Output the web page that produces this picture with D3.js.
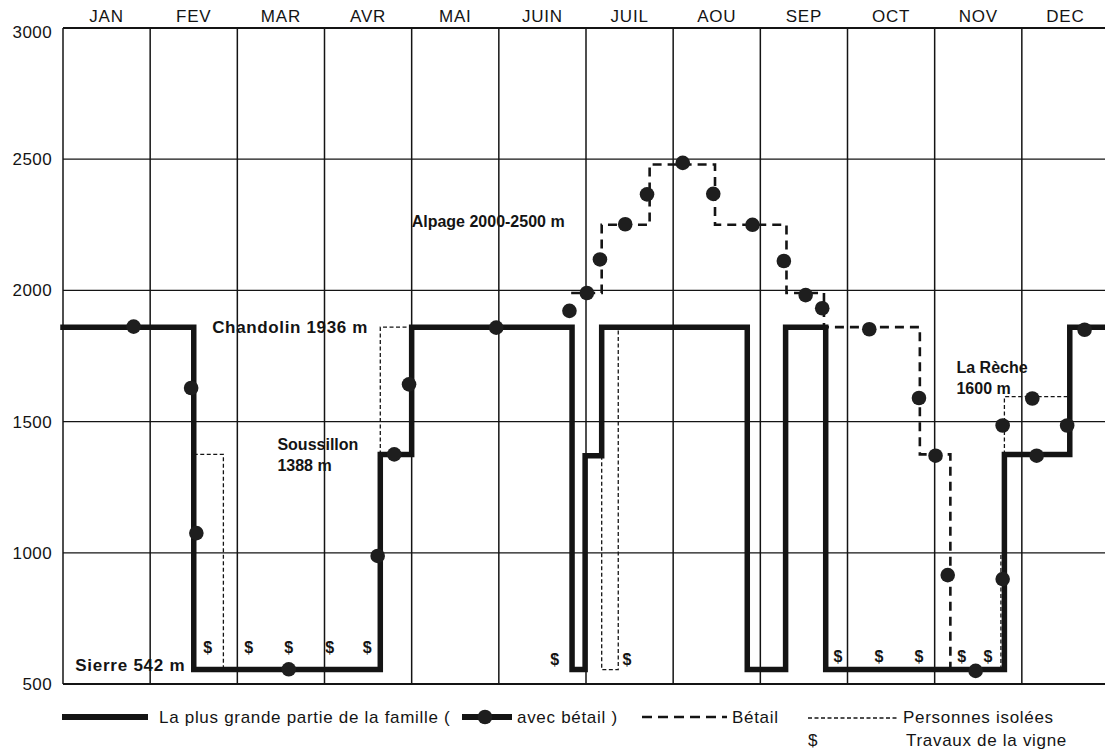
<!DOCTYPE html>
<html>
<head>
<meta charset="utf-8">
<script src="https://cdn.jsdelivr.net/npm/d3@7"></script>
<style>
  body { margin: 0; background: #fff; }
  svg { display: block; font-family: "Liberation Sans", Arial, Helvetica, sans-serif; }
</style>
</head>
<body>
<svg id="chart" width="1105" height="756"></svg>
<script>
// Months along the top, altitude ticks on the left
const months = ["JAN", "FEV", "MAR", "AVR", "MAI", "JUIN", "JUIL", "AOU", "SEP", "OCT", "NOV", "DEC"];
const altTicks = [500, 1000, 1500, 2000, 2500, 3000];

// La plus grande partie de la famille (step line, month position / altitude)
const familleX = [0, 1.5, 1.5, 3.64, 3.64, 4.0, 4.0, 5.84, 5.84, 5.99, 5.99, 6.18, 6.18, 7.85, 7.85, 8.29, 8.29, 8.75, 8.75, 10.8, 10.8, 11.55, 11.55, 12];
const familleAlt = [1860, 1860, 555, 555, 1375, 1375, 1860, 1860, 555, 555, 1370, 1370, 1860, 1860, 555, 555, 1860, 1860, 555, 555, 1375, 1375, 1860, 1860];

// Bétail (dashed)
const betailX = [5.83, 6.18, 6.18, 6.73, 6.73, 7.48, 7.48, 8.3, 8.3, 8.73, 8.73, 9.83, 9.83, 10.18, 10.18];
const betailAlt = [1990, 1990, 2250, 2250, 2480, 2480, 2250, 2250, 1990, 1990, 1860, 1860, 1375, 1375, 560];

// Personnes isolées (thin dotted, several pieces)
const isoleesX = [[1.5, 1.84, 1.84], [3.64, 3.64, 4.0], [6.18, 6.18, 6.37, 6.37], [10.76, 10.76], [10.8, 10.8, 11.55]];
const isoleesAlt = [[1375, 1375, 555], [1375, 1860, 1860], [1370, 555, 555, 1860], [555, 1000], [1375, 1595, 1595]];

// avec bétail (dots)
const dotX = [0.81, 1.47, 1.53, 2.59, 3.61, 3.8, 3.97, 4.97, 5.81, 6.01, 6.16, 6.45, 6.7, 7.11, 7.46, 7.91, 8.27, 8.52, 8.71, 9.25, 9.82, 10.01, 10.15, 10.47, 10.78, 10.78, 11.12, 11.17, 11.52, 11.72];
const dotAlt = [1862, 1628, 1075, 556, 988, 1375, 1642, 1858, 1922, 1990, 2118, 2252, 2366, 2486, 2368, 2250, 2112, 1982, 1932, 1852, 1590, 1370, 915, 550, 900, 1485, 1588, 1370, 1485, 1850];

// Travaux de la vigne ($)
const vigneX = [1.66, 2.13, 2.59, 3.06, 3.49, 5.64, 6.47, 8.89, 9.36, 9.82, 10.31, 10.61];
const vigneAlt = [620, 620, 620, 620, 620, 574, 574, 584, 584, 584, 584, 584];

// Place names
const placeLabels = [
  { lines: ["Chandolin 1936 m"], m: 3.5, alt: 1838, anchor: "end" },
  { lines: ["Soussillon", "1388 m"], m: 2.46, alt: 1390, anchor: "start" },
  { lines: ["Sierre 542 m"], m: 0.14, alt: 548, anchor: "start" },
  { lines: ["Alpage 2000-2500 m"], m: 4.0, alt: 2240, anchor: "start" },
  { lines: ["La Rèche", "1600 m"], m: 10.25, alt: 1685, anchor: "start" }
];

const svg = d3.select("#chart");
const ink = "#141414";

const x = d3.scaleLinear().domain([0, 12]).range([63, 1109]);
const y = d3.scaleLinear().domain([500, 3000]).range([684, 28]);

// Horizontal grid
svg.append("g")
    .selectAll("line")
    .data(altTicks)
    .join("line")
    .attr("x1", x(0))
    .attr("x2", 1105)
    .attr("y1", d => y(d))
    .attr("y2", d => y(d))
    .attr("stroke", ink)
    .attr("stroke-width", d => (d === 500 || d === 3000) ? 1.8 : 1.3);

// Vertical month lines
svg.append("g")
    .selectAll("line")
    .data(d3.range(0, 12))
    .join("line")
    .attr("x1", d => x(d))
    .attr("x2", d => x(d))
    .attr("y1", y(3000))
    .attr("y2", y(500))
    .attr("stroke", ink)
    .attr("stroke-width", 1.5);

// Month labels on top
svg.append("g")
    .selectAll("text")
    .data(months)
    .join("text")
    .attr("x", (d, i) => x(i + 0.5))
    .attr("y", 22)
    .attr("text-anchor", "middle")
    .attr("font-size", 17)
    .attr("letter-spacing", 0.8)
    .attr("fill", ink)
    .text(d => d);

// Altitude labels
svg.append("g")
    .selectAll("text")
    .data(altTicks)
    .join("text")
    .attr("x", 52)
    .attr("y", d => y(d) + (d === 3000 ? 10 : 6))
    .attr("text-anchor", "end")
    .attr("font-size", 17)
    .attr("letter-spacing", 0.4)
    .attr("fill", ink)
    .text(d => d);

const line = d3.line()
    .x(d => x(d[0]))
    .y(d => y(d[1]));

// Personnes isolées
svg.append("g")
    .selectAll("path")
    .data(isoleesX.map((xs, i) => xs.map((v, j) => [v, isoleesAlt[i][j]])))
    .join("path")
    .attr("d", line)
    .attr("fill", "none")
    .attr("stroke", ink)
    .attr("stroke-width", 1.3)
    .attr("stroke-dasharray", "4,2.5");

// Bétail
svg.append("path")
    .attr("d", line(betailX.map((v, i) => [v, betailAlt[i]])))
    .attr("fill", "none")
    .attr("stroke", ink)
    .attr("stroke-width", 2.6)
    .attr("stroke-dasharray", "9,6");

// Famille
svg.append("path")
    .attr("d", line(familleX.map((v, i) => [v, familleAlt[i]])))
    .attr("fill", "none")
    .attr("stroke", ink)
    .attr("stroke-width", 5.5)
    .attr("stroke-linejoin", "miter")
    .attr("stroke-linecap", "square");

// Dots: avec bétail
svg.append("g")
    .selectAll("circle")
    .data(dotX.map((v, i) => [v, dotAlt[i]]))
    .join("circle")
    .attr("cx", d => x(d[0]))
    .attr("cy", d => y(d[1]))
    .attr("r", 7.3)
    .attr("fill", "#1e1e1e");

// $ signs
svg.append("g")
    .selectAll("text")
    .data(vigneX.map((v, i) => [v, vigneAlt[i]]))
    .join("text")
    .attr("x", d => x(d[0]))
    .attr("y", d => y(d[1]))
    .attr("text-anchor", "middle")
    .attr("font-size", 16)
    .attr("font-weight", "bold")
    .attr("fill", ink)
    .text("$");

// Place labels (the two plain one-liners are printed wider in the original)
const wide = { "Chandolin 1936 m": 0.65, "Sierre 542 m": 0.75 };
const lbl = svg.append("g")
    .selectAll("text")
    .data(placeLabels)
    .join("text")
    .attr("x", d => x(d.m))
    .attr("y", d => y(d.alt))
    .attr("text-anchor", d => d.anchor)
    .attr("font-size", d => wide[d.lines[0]] ? 17 : 16)
    .attr("letter-spacing", d => wide[d.lines[0]] || 0)
    .attr("font-weight", "bold")
    .attr("fill", ink);
lbl.selectAll("tspan")
    .data(d => d.lines.map(t => ({ t, m: d.m })))
    .join("tspan")
    .attr("x", d => x(d.m))
    .attr("dy", (d, i) => i === 0 ? 0 : 21)
    .text(d => d.t);

// Legend
const legend = svg.append("g").attr("fill", ink).attr("font-size", 17).attr("letter-spacing", 0.7);
legend.append("line")
    .attr("x1", 62).attr("x2", 148).attr("y1", 717).attr("y2", 717)
    .attr("stroke", ink).attr("stroke-width", 6);
legend.append("text").attr("x", 159).attr("y", 723)
    .text("La plus grande partie de la famille (");
legend.append("line")
    .attr("x1", 462).attr("x2", 512).attr("y1", 717).attr("y2", 717)
    .attr("stroke", ink).attr("stroke-width", 6);
legend.append("circle").attr("cx", 485).attr("cy", 717).attr("r", 7.3).attr("fill", "#1e1e1e");
legend.append("text").attr("x", 517).attr("y", 723).text("avec bétail )");
legend.append("line")
    .attr("x1", 642).attr("x2", 727).attr("y1", 717).attr("y2", 717)
    .attr("stroke", ink).attr("stroke-width", 2.6).attr("stroke-dasharray", "10,6");
legend.append("text").attr("x", 732).attr("y", 723).text("Bétail");
legend.append("line")
    .attr("x1", 808).attr("x2", 897).attr("y1", 718).attr("y2", 718)
    .attr("stroke", ink).attr("stroke-width", 1.3).attr("stroke-dasharray", "4,2.5");
legend.append("text").attr("x", 903).attr("y", 723).text("Personnes isolées");
legend.append("text").attr("x", 808).attr("y", 746).text("$");
legend.append("text").attr("x", 906).attr("y", 746).text("Travaux de la vigne");
</script>
</body>
</html>
